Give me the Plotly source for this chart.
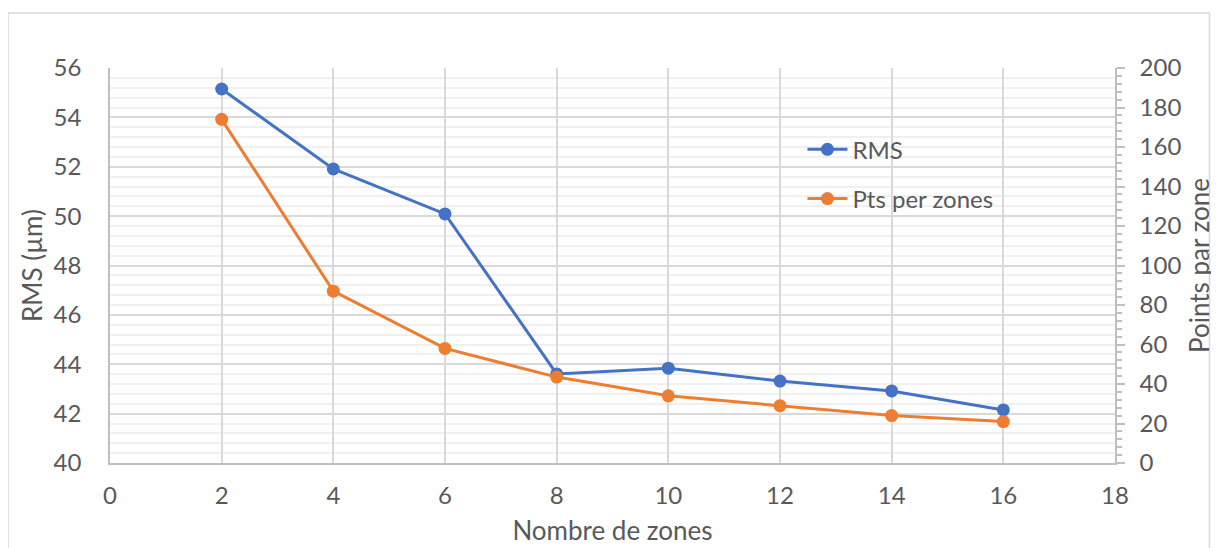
import plotly.graph_objects as go

# number of zones
zones = [2, 4, 6, 8, 10, 12, 14, 16]
# RMS in micrometres (left axis)
rms = [55.15, 51.91, 50.09, 43.61, 43.84, 43.32, 42.92, 42.15]
# points per zone (right axis)
pts_per_zone = [174, 87, 58, 43.5, 34, 29, 24, 21]

BLUE = "#4472C4"
ORANGE = "#ED7D31"
FONT = "Lato"
TXT = "#595959"
FS = 24
TFS = 26

fig = go.Figure()

fig.add_trace(go.Scatter(
    x=zones, y=rms, name="RMS", mode="lines+markers",
    line=dict(color=BLUE, width=3), marker=dict(size=13, color=BLUE),
    legendgroup="a", yaxis="y",
))
fig.add_trace(go.Scatter(
    x=zones, y=pts_per_zone, name="Pts per zones", mode="lines+markers",
    line=dict(color=ORANGE, width=3), marker=dict(size=13, color=ORANGE),
    legendgroup="b", yaxis="y2",
))

# outer chart frame
fig.add_shape(type="rect", xref="paper", yref="paper",
              x0=-0.1015, x1=1.094, y0=-0.3, y1=1.139,
              line=dict(color="#d9d9d9", width=1.5), layer="below")

fig.update_layout(
    width=1219, height=548,
    margin=dict(l=102, r=112, t=60, b=93),
    paper_bgcolor="white", plot_bgcolor="white",
    font=dict(family=FONT, size=FS, color=TXT),
    showlegend=True,
    legend=dict(x=0.689, y=0.85, xanchor="left", yanchor="top",
                bgcolor="rgba(0,0,0,0)", font=dict(size=FS, color=TXT),
                tracegroupgap=15, itemwidth=40),
    xaxis=dict(
        range=[0, 18], dtick=2, tick0=0,
        showgrid=True, gridcolor="#d9d9d9", gridwidth=1.5,
        showline=True, linecolor="#bfbfbf", linewidth=1.5,
        zeroline=False, ticks="", ticklabelstandoff=10,
        title=dict(text="Nombre de zones", font=dict(size=TFS, color=TXT), standoff=14),
    ),
    yaxis=dict(
        range=[40, 56], dtick=2, tick0=40,
        showgrid=True, gridcolor="#d9d9d9", gridwidth=1.5,
        minor=dict(dtick=0.4, showgrid=True, gridcolor="#f0f0f0", gridwidth=1.5),
        showline=True, linecolor="#bfbfbf", linewidth=1.5,
        zeroline=False, ticks="", ticklabelstandoff=22,
        title=dict(text="RMS (µm)", font=dict(size=TFS, color=TXT), standoff=4),
    ),
    yaxis2=dict(
        range=[0, 200], dtick=20, tick0=0,
        overlaying="y", side="right",
        showgrid=False, zeroline=False,
        showline=True, linecolor="#bfbfbf", linewidth=1.5,
        ticks="outside", ticklen=8, tickcolor="#bfbfbf", tickwidth=1.5,
        minor=dict(dtick=4, ticks="outside", ticklen=5, tickcolor="#bfbfbf", tickwidth=1.5),
        ticklabelstandoff=10,
        title=dict(text="Points par zone", font=dict(size=TFS, color=TXT), standoff=10),
    ),
)

fig.write_html("out.html")
